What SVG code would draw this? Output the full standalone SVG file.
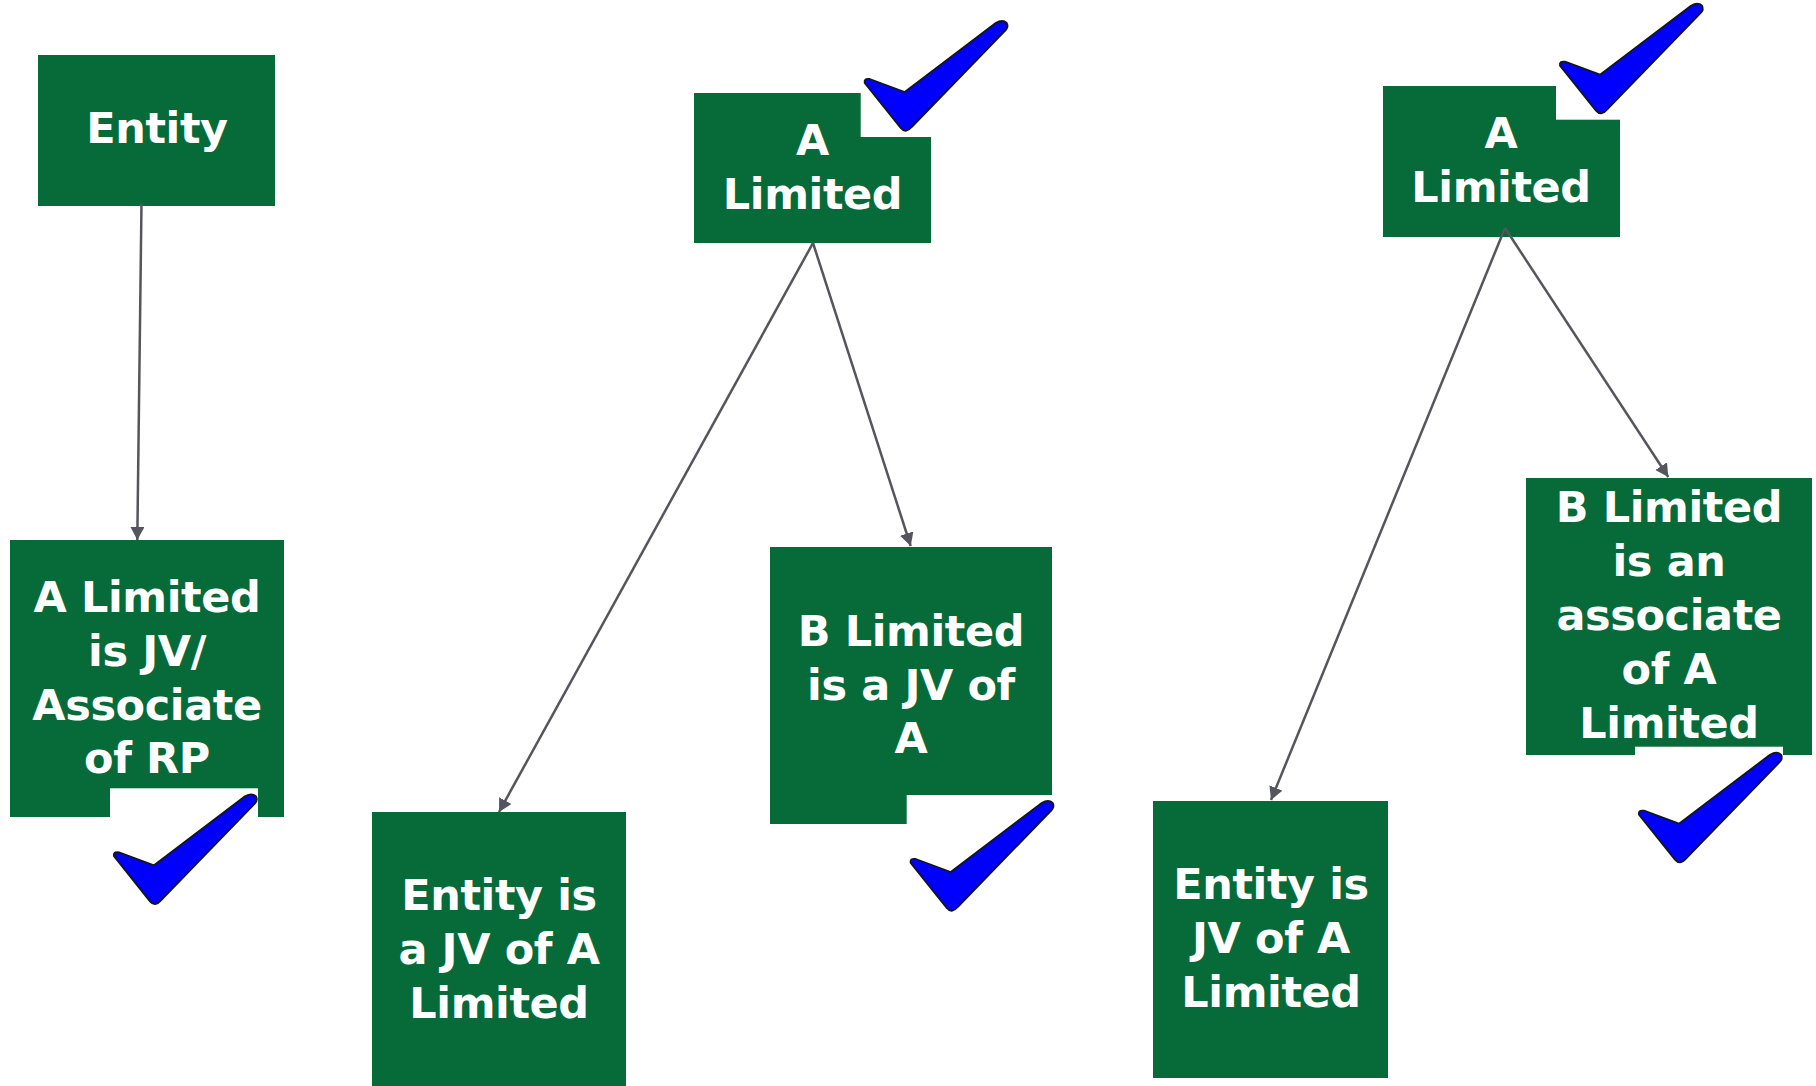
<svg xmlns="http://www.w3.org/2000/svg" xmlns:xlink="http://www.w3.org/1999/xlink" width="1816" height="1086" viewBox="0 0 1816 1086">
  <style>
    .box{fill:#066a39}
    .lbl{font-family:"DejaVu Sans","Verdana",sans-serif;font-weight:bold;font-size:43px;letter-spacing:-0.4px;fill:#ffffff;text-anchor:middle}
    .edge{stroke:#55565d;stroke-width:2.5;fill:none}
    .tick{fill:#0000ff;stroke:#15151f;stroke-width:1.8;stroke-linejoin:round}
  </style>
  <defs>
    <marker id="arrow" markerUnits="userSpaceOnUse" markerWidth="16" markerHeight="16" refX="13" refY="7" orient="auto">
      <path d="M0,0 L13,7 L0,14 z" fill="#55565d"/>
    </marker>
    <!-- tick mark on its white tile; origin = left tip of the tick -->
    <symbol id="tick" overflow="visible">
      <rect x="-5" y="-65" width="148" height="122" fill="#ffffff"/>
      <path class="tick" d="M-1,3 Q-2,-2 4,-1 L39,12 L130,-57 Q137,-61 141,-57 Q143,-53 140,-50 L46,47 Q40,54 35,48 Z"/>
    </symbol>
  </defs>

  <rect width="1816" height="1086" fill="#ffffff"/>

  <!-- nodes -->
  <g id="entity">
    <rect class="box" x="38" y="55" width="237" height="151"/>
    <text class="lbl" x="157" y="143">Entity</text>
  </g>
  <g id="a-limited-1">
    <rect class="box" x="694" y="93" width="237" height="150"/>
    <text class="lbl" x="812.5" y="155">A</text>
    <text class="lbl" x="812.5" y="209">Limited</text>
  </g>
  <g id="a-limited-2">
    <rect class="box" x="1383" y="86" width="237" height="151"/>
    <text class="lbl" x="1501" y="148">A</text>
    <text class="lbl" x="1501" y="202">Limited</text>
  </g>
  <g id="a-jv-associate-rp">
    <rect class="box" x="10" y="540" width="274" height="277"/>
    <text class="lbl" x="147" y="612">A Limited</text>
    <text class="lbl" x="147" y="666">is JV/</text>
    <text class="lbl" x="147" y="720">Associate</text>
    <text class="lbl" x="147" y="773">of RP</text>
  </g>
  <g id="entity-jv-1">
    <rect class="box" x="372" y="812" width="254" height="274"/>
    <text class="lbl" x="499" y="910">Entity is</text>
    <text class="lbl" x="499" y="964">a JV of A</text>
    <text class="lbl" x="499" y="1018">Limited</text>
  </g>
  <g id="b-jv">
    <rect class="box" x="770" y="547" width="282" height="277"/>
    <text class="lbl" x="911" y="646">B Limited</text>
    <text class="lbl" x="911" y="700">is a JV of</text>
    <text class="lbl" x="911" y="753">A</text>
  </g>
  <g id="entity-jv-2">
    <rect class="box" x="1153" y="801" width="235" height="277"/>
    <text class="lbl" x="1271" y="899">Entity is</text>
    <text class="lbl" x="1271" y="953">JV of A</text>
    <text class="lbl" x="1271" y="1007">Limited</text>
  </g>
  <g id="b-associate">
    <rect class="box" x="1526" y="478" width="286" height="277"/>
    <text class="lbl" x="1669" y="522">B Limited</text>
    <text class="lbl" x="1669" y="576">is an</text>
    <text class="lbl" x="1669" y="630">associate</text>
    <text class="lbl" x="1669" y="684">of A</text>
    <text class="lbl" x="1669" y="738">Limited</text>
  </g>

  <!-- connectors -->
  <g id="connectors">
    <line class="edge" x1="141.5" y1="203" x2="137.3" y2="540" marker-end="url(#arrow)"/>
    <line class="edge" x1="813" y1="243" x2="499" y2="812" marker-end="url(#arrow)"/>
    <line class="edge" x1="813" y1="243" x2="910.7" y2="546" marker-end="url(#arrow)"/>
    <line class="edge" x1="1505" y1="228" x2="1271" y2="800" marker-end="url(#arrow)"/>
    <line class="edge" x1="1505" y1="228" x2="1668.3" y2="477" marker-end="url(#arrow)"/>
  </g>

  <!-- tick marks -->
  <g id="ticks">
    <use xlink:href="#tick" href="#tick" x="865.7" y="80"/>
    <use xlink:href="#tick" href="#tick" x="1561" y="62.7"/>
    <use xlink:href="#tick" href="#tick" x="115" y="853.3"/>
    <use xlink:href="#tick" href="#tick" x="911.7" y="860"/>
    <use xlink:href="#tick" href="#tick" x="1640" y="811.7"/>
  </g>
</svg>
